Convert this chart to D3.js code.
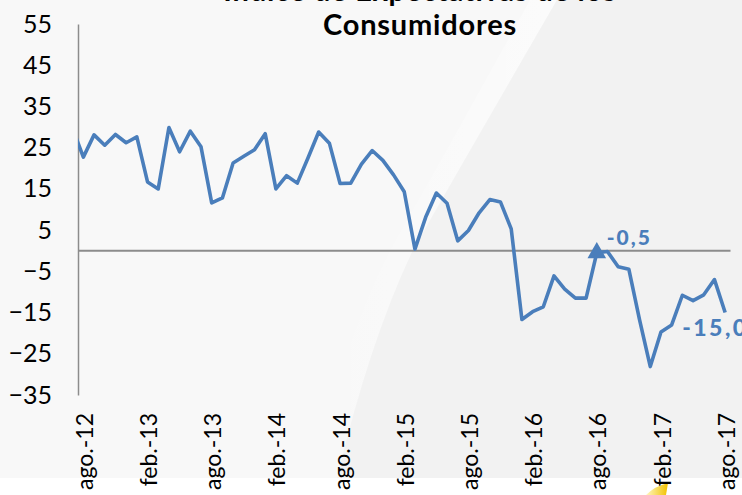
<!DOCTYPE html>
<html><head><meta charset="utf-8">
<script src="https://cdn.jsdelivr.net/npm/d3@7"></script>
<style>html,body{margin:0;padding:0;background:#fff;overflow:hidden}</style>
</head><body>
<script>
// ---- data ----
const titleLines = ["Índice de Expectativas de los", "Consumidores"];
const priorCategory = "jul.-12";
const priorValue = 29.6;
const categories = [
 "ago.-12","sep.-12","oct.-12","nov.-12","dic.-12",
 "ene.-13","feb.-13","mar.-13","abr.-13","may.-13","jun.-13","jul.-13","ago.-13","sep.-13","oct.-13","nov.-13","dic.-13",
 "ene.-14","feb.-14","mar.-14","abr.-14","may.-14","jun.-14","jul.-14","ago.-14","sep.-14","oct.-14","nov.-14","dic.-14",
 "ene.-15","feb.-15","mar.-15","abr.-15","may.-15","jun.-15","jul.-15","ago.-15","sep.-15","oct.-15","nov.-15","dic.-15",
 "ene.-16","feb.-16","mar.-16","abr.-16","may.-16","jun.-16","jul.-16","ago.-16","sep.-16","oct.-16","nov.-16","dic.-16",
 "ene.-17","feb.-17","mar.-17","abr.-17","may.-17","jun.-17","jul.-17","ago.-17"];
const values = [
 22.7, 28.1, 25.6, 28.2, 26.2,
 27.6, 16.7, 15.0, 29.9, 24.0, 29.0, 25.2, 11.6, 12.8, 21.3, 22.9, 24.5,
 28.4, 15.0, 18.2, 16.4, 22.5, 28.8, 26.1, 16.3, 16.4, 21.0, 24.3, 21.9,
 18.4, 14.3, 0.4, 8.1, 14.0, 11.5, 2.4, 4.9, 9.2, 12.4, 11.8, 5.3,
 -16.7, -14.8, -13.6, -6.1, -9.3, -11.5, -11.5, -0.5, -0.2, -3.9, -4.5, -16.8,
 -28.1, -19.7, -18.0, -10.8, -12.1, -10.7, -7.0, -15.0];
const tickLabels = ["ago.-12","feb.-13","ago.-13","feb.-14","ago.-14","feb.-15","ago.-15","feb.-16","ago.-16","feb.-17","ago.-17"];
const yTicks = [55,45,35,25,15,5,-5,-15,-25,-35];
const markedCategory = "ago.-16";
const markedLabel = "-0,5";
const lastLabel = "-15,0";

// ---- layout ----
const W = 742, H = 495;
const pL = 78, pR = 730.5, pT = 24, pB = 395;
const blue = "#4a7ebb";
const font = "Lato, 'Open Sans', sans-serif";

const svg = d3.select("body").append("svg").attr("width", W).attr("height", H);
const defs = svg.append("defs");

// background
svg.append("rect").attr("width", W).attr("height", H).attr("fill", "#f8f8f8");
const sheen = defs.append("linearGradient").attr("id","sheen").attr("x1","0").attr("x2","1").attr("y1","0").attr("y2","0");
sheen.append("stop").attr("offset","0").attr("stop-color","#ffffff").attr("stop-opacity",0);
sheen.append("stop").attr("offset","1").attr("stop-color","#ffffff").attr("stop-opacity",0.45);
svg.append("path")
  .attr("d","M530,0 L557,0 Q470,150 413,250 Q370,340 337,478 L312,478 Q345,335 392,247 Q450,145 530,0 Z")
  .attr("fill","url(#sheen)");
svg.append("path")
  .attr("d","M557,0 L742,0 L742,478 L337,478 Q370,340 413,250 Q470,150 557,0 Z")
  .attr("fill","#f2f2f2");
svg.append("rect").attr("x",0).attr("y",478).attr("width",W).attr("height",H-478).attr("fill","#ffffff");
const yel = defs.append("linearGradient").attr("id","yel").attr("x1","0").attr("x2","1");
yel.append("stop").attr("offset","0").attr("stop-color","#fff6c0");
yel.append("stop").attr("offset","1").attr("stop-color","#f2c200");
svg.append("path").attr("d","M646,495 Q655,486 668,483 L666,495 Z").attr("fill","url(#yel)");

// scales
const fullCats = [priorCategory, ...categories];
const bw = (pR - pL) / categories.length;
const x = d3.scaleBand().domain(fullCats).range([pL - bw, pR]).padding(0);
const cx = c => x(c) + x.bandwidth() / 2;
const y = d3.scaleLinear().domain([-35, 55]).range([pB, pT]);

// title
svg.append("text").attr("x", 420).attr("y", 1).attr("text-anchor","middle")
  .attr("font-family", font).attr("font-weight","bold").attr("font-size",29).attr("letter-spacing",0.8).attr("fill","#000")
  .text(titleLines[0]);
svg.append("text").attr("x", 420).attr("y", 35).attr("text-anchor","middle")
  .attr("font-family", font).attr("font-weight","bold").attr("font-size",29).attr("letter-spacing",0.8).attr("fill","#000")
  .text(titleLines[1]);

// y axis
const yAxis = d3.axisLeft(y).tickValues(yTicks).tickSize(0).tickPadding(26);
const gy = svg.append("g").attr("transform",`translate(${pL},0)`).call(yAxis);
gy.select(".domain").attr("stroke","#8c8c8c").attr("stroke-width",1.5);
gy.selectAll("text").attr("font-family", font).attr("font-size",25).attr("fill","#000");

// zero line
svg.append("line").attr("x1", pL).attr("x2", pR).attr("y1", y(0)).attr("y2", y(0))
  .attr("stroke","#8c8c8c").attr("stroke-width",2);

// x labels
const xAxis = d3.axisBottom(x).tickValues(tickLabels).tickSize(0);
const gx = svg.append("g").attr("transform",`translate(0,${pB})`).call(xAxis);
gx.select(".domain").remove();
gx.selectAll("text")
  .attr("font-family", font).attr("font-size",23).attr("fill","#000")
  .attr("text-anchor","end").attr("dy","0.35em")
  .attr("transform","translate(1.5,18) rotate(-90)")
  .attr("x",0).attr("y",0);

// line (clipped to plot area)
defs.append("clipPath").attr("id","plot").append("rect")
  .attr("x", pL).attr("y", 0).attr("width", W - pL).attr("height", H);
const series = [{c: priorCategory, v: priorValue}, ...categories.map((c,i)=>({c, v: values[i]}))];
svg.append("path").datum(series)
  .attr("clip-path","url(#plot)")
  .attr("fill","none").attr("stroke", blue).attr("stroke-width",3.6)
  .attr("stroke-linejoin","round")
  .attr("d", d3.line().x(d=>cx(d.c)).y(d=>y(d.v)));

// marker
const mi = categories.indexOf(markedCategory);
svg.append("path")
  .attr("transform",`translate(${cx(markedCategory)},${y(values[mi])})`)
  .attr("d", d3.symbol().type(d3.symbolTriangle).size(150)())
  .attr("fill", blue);

// annotations
svg.append("text").attr("x", cx(markedCategory)+10).attr("y", y(values[mi]) - 8)
  .attr("font-family", font).attr("font-weight","900").attr("font-size",21)
  .attr("letter-spacing",2).attr("fill", blue).text(markedLabel);
const lastC = categories[categories.length-1];
svg.append("text").attr("x", cx(lastC) - 43).attr("y", y(values[values.length-1]) + 23)
  .attr("font-family", font).attr("font-weight","900").attr("font-size",23)
  .attr("letter-spacing",2.5).attr("fill", blue).text(lastLabel);
</script>
</body></html>
